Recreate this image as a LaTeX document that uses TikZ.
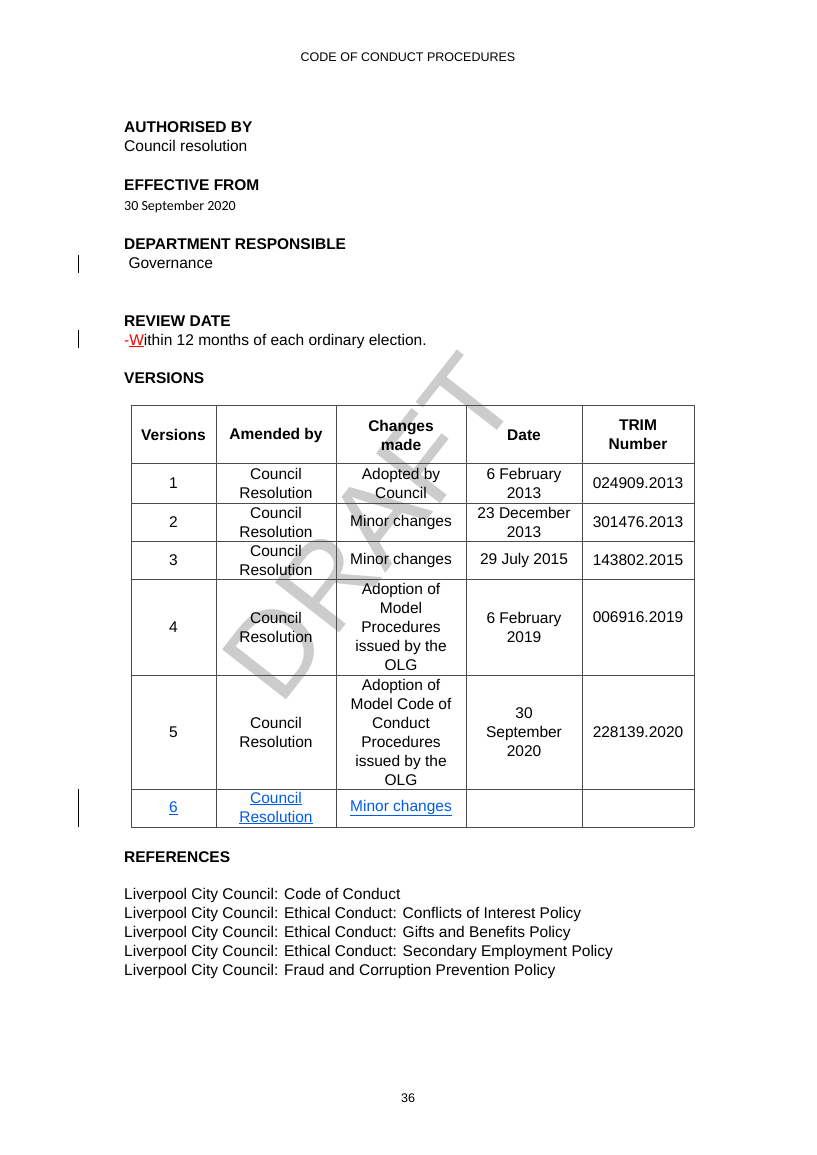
\documentclass[tikz,border=0pt]{standalone}
\usepackage{fontspec}
\setmainfont{Liberation Sans}
\newfontfamily\calfont{Carlito}
\newcommand\myul[1]{\underline{#1}}
\begin{document}
\begin{tikzpicture}[x=1pt,y=-1pt,
 txt/.style={anchor=base west,inner sep=0,font=\fontsize{15.5}{19}\selectfont},
 hd/.style={txt,font=\fontsize{15.5}{19}\selectfont\bfseries},
 cell/.style={align=center,inner sep=0,font=\fontsize{15.5}{19}\selectfont},
 link/.style={cell,text=blue!60!cyan!90!black},
 grid/.style={draw=black!70,line width=0.6pt},
 bar/.style={line width=0.8pt}]
\useasboundingbox (0,0) rectangle (816,1155);
\node[anchor=base,inner sep=0,font=\fontsize{12.5}{15}\selectfont] (hdr) at (408,62) {CODE OF CONDUCT PROCEDURES};
\node[hd] (a1) at (124,133) {AUTHORISED BY};
\node[txt] (a2) at (124,152) {Council resolution};
\node[hd] (e1) at (124,191) {EFFECTIVE FROM};
\node[txt,font=\calfont\fontsize{14}{17}\selectfont] (e2) at (124,211) {30 September 2020};
\node[hd] (d1) at (124,250) {DEPARTMENT RESPONSIBLE};
\node[txt] (d2) at (124,269) {\ Governance};
\node[hd] (r1) at (124,326) {REVIEW DATE};
\node[txt] (r2) at (124,345) {\textcolor{red}{-\myul{W}}ithin 12 months of each ordinary election.};
\node[hd] (v1) at (124,383) {VERSIONS};
% watermark
\node[rotate=52,text=black!25,font=\fontsize{118}{118}\selectfont,inner sep=0,opacity=0.8] (wm) at (370,528) {DRAFT};
% table
\foreach \y in {405,463,503,541,579,675,789,827} \draw[grid] (131,\y) -- (694,\y);
\foreach \x in {131,216,336,466,582,694} \draw[grid] (\x,405) -- (\x,827);
\node[cell,font=\fontsize{15.5}{19}\selectfont\bfseries] (h1) at (173.5,435) {Versions};
\node[cell,font=\fontsize{15.5}{19}\selectfont\bfseries] (h2) at (276,435) {Amended by};
\node[cell,font=\fontsize{15.5}{19}\selectfont\bfseries] (h3) at (401,435) {Changes\\made};
\node[cell,font=\fontsize{15.5}{19}\selectfont\bfseries] (h4) at (524,435) {Date};
\node[cell,font=\fontsize{15.5}{19}\selectfont\bfseries] (h5) at (638,435) {TRIM\\Number};
% rows
\node[cell] at (173.5,483) {1};
\node[cell] at (276,483) {Council\\Resolution};
\node[cell] at (401,483) {Adopted by\\Council};
\node[cell] at (524,483) {6 February\\2013};
\node[cell] at (638,483) {024909.2013};
\node[cell] at (173.5,522) {2};
\node[cell] at (276,522) {Council\\Resolution};
\node[cell] at (401,522) {Minor changes};
\node[cell] at (524,522) {23 December\\2013};
\node[cell] at (638,522) {301476.2013};
\node[cell] at (173.5,560) {3};
\node[cell] at (276,560) {Council\\Resolution};
\node[cell] at (401,560) {Minor changes};
\node[cell] at (524,560) {29 July 2015};
\node[cell] at (638,560) {143802.2015};
\node[cell] at (173.5,627) {4};
\node[cell] at (276,627) {Council\\Resolution};
\node[cell] at (401,627) {Adoption of\\Model\\Procedures\\issued by the\\OLG};
\node[cell] at (524,627) {6 February\\2019};
\node[cell] at (638,617) {006916.2019};
\node[cell] at (173.5,732) {5};
\node[cell] at (276,732) {Council\\Resolution};
\node[cell] at (401,732) {Adoption of\\Model Code of\\Conduct\\Procedures\\issued by the\\OLG};
\node[cell] at (524,732) {30\\September\\2020};
\node[cell] at (638,732) {228139.2020};
\node[link] at (173.5,808) {\myul{6}};
\node[link] at (276,808) {\myul{Council}\\\myul{Resolution}};
\node[link] at (401,808) {\myul{Minor changes}};
% references
\node[hd] (ref) at (124,862) {REFERENCES};
\node[txt] (f1) at (124,899) {Liverpool City Council: Code of Conduct};
\node[txt] (f2) at (124,918) {Liverpool City Council: Ethical Conduct: Conflicts of Interest Policy};
\node[txt] (f3) at (124,937) {Liverpool City Council: Ethical Conduct: Gifts and Benefits Policy};
\node[txt] (f4) at (124,956) {Liverpool City Council: Ethical Conduct: Secondary Employment Policy};
\node[txt] (f5) at (124,975) {Liverpool City Council: Fraud and Corruption Prevention Policy};
\node[anchor=base,inner sep=0,font=\fontsize{12.5}{15}\selectfont] (pg) at (408,1102) {36};
% change bars
\draw[bar] (78,255) -- (78,273);
\draw[bar] (78,330) -- (78,348);
\draw[bar] (78,789) -- (78,827);
\end{tikzpicture}
\end{document}
